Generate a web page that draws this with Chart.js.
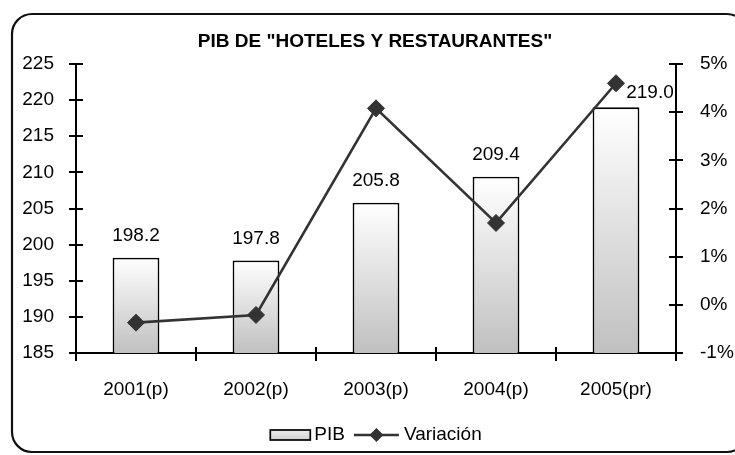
<!DOCTYPE html>
<html>
<head>
<meta charset="utf-8">
<script src="https://cdn.jsdelivr.net/npm/chart.js@4/dist/chart.umd.min.js"></script>
<style>
  html, body { margin: 0; padding: 0; background: #fff; }
  #wrap { width: 735px; height: 455px; position: relative; }
</style>
</head>
<body>
<div id="wrap"><canvas id="c"></canvas></div>
<script>
// ---- data ----
const categories = ['2001(p)', '2002(p)', '2003(p)', '2004(p)', '2005(pr)'];
const pib = [198.2, 197.8, 205.8, 209.4, 219.0];
const variacion = [-0.37, -0.21, 4.08, 1.70, 4.60];
const leftTicks = [185, 190, 195, 200, 205, 210, 215, 220, 225];
const rightTicks = [-1, 0, 1, 2, 3, 4, 5];
const titleText = 'PIB DE "HOTELES Y RESTAURANTES"';
const seriesNames = ['PIB', 'Variación'];

const FONT = '"Liberation Sans", Arial, sans-serif';
Chart.defaults.font.family = FONT;
Chart.defaults.font.size = 19;
Chart.defaults.color = '#000';

function barGradient(c, top, bottom) {
  const g = c.createLinearGradient(0, top, 0, bottom);
  g.addColorStop(0, '#ffffff');
  g.addColorStop(1, '#c0c0c0');
  return g;
}

const framePlugin = {
  id: 'frame',
  beforeDraw(chart) {
    const c = chart.ctx;
    c.save();
    c.fillStyle = '#fff';
    c.fillRect(0, 0, chart.width, chart.height);
    c.strokeStyle = '#111';
    c.lineWidth = 2.2;
    c.beginPath();
    c.roundRect(12, 14, 735, 438, 20);
    c.stroke();
    c.restore();
  }
};

const axisTicksPlugin = {
  id: 'axisTicks',
  afterDraw(chart) {
    const c = chart.ctx, a = chart.chartArea;
    const sy = chart.scales.y, sy1 = chart.scales.y1, sx = chart.scales.x;
    c.save();
    c.strokeStyle = '#000';
    c.lineWidth = 2;
    c.beginPath();
    sy.ticks.forEach(t => {
      const p = Math.round(sy.getPixelForValue(t.value));
      c.moveTo(a.left - 7, p); c.lineTo(a.left + 7, p);
    });
    sy1.ticks.forEach(t => {
      const p = Math.round(sy1.getPixelForValue(t.value));
      c.moveTo(a.right - 7, p); c.lineTo(a.right + 7, p);
    });
    const n = sx.ticks.length;
    for (let i = 0; i <= n; i++) {
      const px = Math.round(a.left + i * (a.right - a.left) / n);
      c.moveTo(px, a.bottom - 6); c.lineTo(px, a.bottom + 8);
    }
    c.stroke();
    c.restore();
  }
};

const valueLabelsPlugin = {
  id: 'valueLabels',
  afterDatasetsDraw(chart, args, opts) {
    const c = chart.ctx;
    const meta = chart.getDatasetMeta(0);
    const ds = chart.data.datasets[0];
    c.save();
    c.font = '19px ' + FONT;
    c.fillStyle = '#000';
    c.textAlign = 'center';
    c.textBaseline = 'middle';
    meta.data.forEach((el, i) => {
      const off = (opts.offsets && opts.offsets[i]) || [0, -22];
      c.fillText(ds.data[i].toFixed(1), el.x + off[0], el.y + off[1]);
    });
    c.restore();
  }
};

const customLegendPlugin = {
  id: 'customLegend',
  afterDraw(chart, args, opts) {
    const c = chart.ctx, a = chart.chartArea;
    const y = opts.y;
    c.save();
    c.font = '19px ' + FONT;
    c.textBaseline = 'middle';
    c.textAlign = 'left';
    const names = chart.data.datasets.map(d => d.label);
    const boxW = 40, boxH = 10, lineW = 45;
    const w0 = c.measureText(names[0]).width;
    const w1 = c.measureText(names[1]).width;
    const total = boxW + 4 + w0 + 9 + lineW + 5 + w1;
    let x = (a.left + a.right) / 2 - total / 2;
    // bar swatch
    c.fillStyle = barGradient(c, y - boxH / 2 - 6, y + boxH / 2 + 6);
    c.fillRect(x, y - boxH / 2, boxW, boxH);
    c.strokeStyle = '#000';
    c.lineWidth = 1.7;
    c.strokeRect(x, y - boxH / 2, boxW, boxH);
    x += boxW + 4;
    c.fillStyle = '#000';
    c.fillText(names[0], x, y);
    x += w0 + 9;
    // line swatch
    c.strokeStyle = '#333';
    c.lineWidth = 2.5;
    c.beginPath(); c.moveTo(x, y); c.lineTo(x + lineW, y); c.stroke();
    const cx = x + lineW / 2, r = 7;
    c.fillStyle = '#333';
    c.beginPath();
    c.moveTo(cx, y - r); c.lineTo(cx + r, y); c.lineTo(cx, y + r); c.lineTo(cx - r, y);
    c.closePath(); c.fill();
    x += lineW + 5;
    c.fillStyle = '#000';
    c.fillText(names[1], x, y);
    c.restore();
  }
};

new Chart(document.getElementById('c'), {
  data: {
    labels: categories,
    datasets: [
      {
        type: 'bar',
        label: seriesNames[0],
        data: pib,
        yAxisID: 'y',
        order: 1,
        barPercentage: 0.39,
        categoryPercentage: 1,
        borderColor: '#000',
        borderWidth: 1.8,
        borderSkipped: 'bottom',
        backgroundColor: (ctx) => {
          const chart = ctx.chart;
          const a = chart.chartArea;
          if (!a || ctx.type !== 'data') return '#ddd';
          const top = chart.scales.y.getPixelForValue(ctx.raw);
          return barGradient(chart.ctx, top, a.bottom);
        }
      },
      {
        type: 'line',
        label: seriesNames[1],
        data: variacion,
        yAxisID: 'y1',
        order: 0,
        borderColor: '#333',
        borderWidth: 2.6,
        pointStyle: 'rectRot',
        pointRadius: 8.5,
        pointBackgroundColor: '#333',
        pointBorderColor: '#333',
        pointBorderWidth: 1,
        tension: 0
      }
    ]
  },
  options: {
    responsive: true,
    maintainAspectRatio: false,
    animation: false,
    devicePixelRatio: 1,
    layout: { padding: { left: 15, right: 0, top: 0, bottom: 0 } },
    plugins: {
      legend: { display: false },
      tooltip: { enabled: false },
      title: {
        display: true,
        text: titleText,
        color: '#000',
        font: { size: 19, weight: 'bold', family: FONT },
        padding: { top: 30, bottom: 11.2 }
      },
      valueLabels: { offsets: [[0, -22], [0, -22], [0, -22], [0, -22], [34, -15]] },
      customLegend: { y: 435 }
    },
    scales: {
      x: {
        grid: { display: false },
        border: { display: true, color: '#000', width: 2 },
        ticks: { padding: 17, color: '#000', maxRotation: 0 },
        afterFit(s) { s.height = 102; }
      },
      y: {
        position: 'left',
        min: leftTicks[0],
        max: leftTicks[leftTicks.length - 1],
        grid: { display: false },
        border: { display: true, color: '#000', width: 2 },
        ticks: { padding: 14, color: '#000' },
        afterBuildTicks(s) { s.ticks = leftTicks.map(v => ({ value: v })); },
        afterFit(s) { s.width = 61; }
      },
      y1: {
        position: 'right',
        min: rightTicks[0],
        max: rightTicks[rightTicks.length - 1],
        grid: { display: false },
        border: { display: true, color: '#000', width: 2 },
        ticks: { padding: 16, color: '#000', callback: v => v + '%' },
        afterBuildTicks(s) { s.ticks = rightTicks.map(v => ({ value: v })); },
        afterFit(s) { s.width = 59; }
      }
    }
  },
  plugins: [framePlugin, axisTicksPlugin, valueLabelsPlugin, customLegendPlugin]
});
</script>
</body>
</html>
